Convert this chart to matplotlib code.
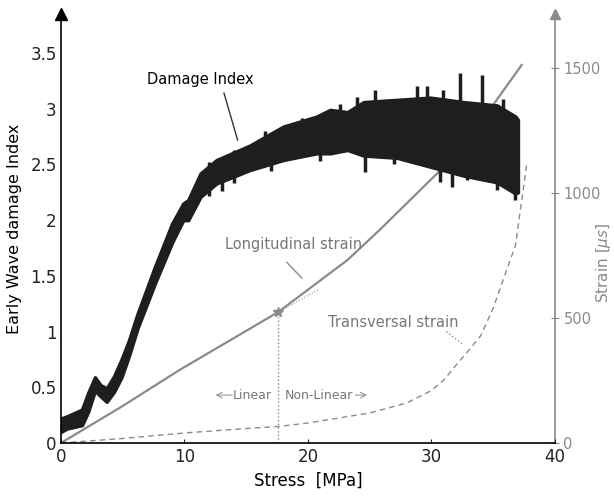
from matplotlib import pyplot as plt

# damage index band (stress in MPa, lower/upper envelope of the noisy signal)
di_stress = [0, 0.5, 1.7, 2.2, 2.75, 3.2, 3.7, 4.3, 4.9, 5.5, 6.2, 7.6, 9.0, 9.9, 10.3, 11.3,
             12.6, 15.3, 18.0, 20.7, 21.8, 23.2, 24.5, 27.2, 29.9, 32.6, 35.3, 36.8, 37.0]
di_upper = [0.22, 0.24, 0.30, 0.45, 0.59, 0.52, 0.49, 0.60, 0.75, 0.92, 1.16, 1.58, 1.97, 2.15, 2.18, 2.42,
            2.54, 2.67, 2.84, 2.93, 2.99, 2.97, 3.06, 3.08, 3.10, 3.06, 3.03, 2.93, 2.90]
di_lower = [0.10, 0.13, 0.16, 0.28, 0.47, 0.42, 0.37, 0.46, 0.59, 0.78, 1.03, 1.43, 1.80, 2.00, 2.00, 2.21,
            2.33, 2.45, 2.54, 2.60, 2.60, 2.63, 2.58, 2.56, 2.48, 2.40, 2.34, 2.24, 2.25]
# isolated spikes of the signal
spike_up_x = [12.0, 14.0, 16.5, 19.5, 22.6, 24.0, 25.4, 28.8, 29.6, 30.9, 32.3, 34.1, 35.8]
spike_up_y = [2.52, 2.63, 2.80, 2.92, 3.04, 3.11, 3.17, 3.20, 3.20, 3.17, 3.32, 3.30, 3.09]
spike_dn_x = [13.0, 17.0, 21.0, 24.6, 27.0, 30.7, 31.7, 32.9, 35.3, 36.8]
spike_dn_y = [2.26, 2.44, 2.53, 2.43, 2.50, 2.34, 2.30, 2.36, 2.27, 2.18]

# strains in micro strain
long_stress = [0, 5, 9.6, 17.6, 23.2, 25.8, 30.5, 34.7, 37.3]
long_strain = [0, 148, 292, 524, 732, 852, 1080, 1332, 1512]
trans_stress = [0, 5, 10, 15, 17.6, 20, 25, 28, 30, 31, 32, 33, 34, 35, 36, 36.8, 37.7]
trans_strain = [0, 18, 40, 58, 66, 80, 120, 160, 210, 252, 312, 370, 430, 540, 680, 790, 1110]

knee_stress = 17.6
knee_strain = 524

grey = '#8a8a8a'
plt.rcParams['font.family'] = ['DejaVu Sans']

fig = plt.figure(figsize=(6.14, 4.97), dpi=100)
ax = fig.add_axes([0.0993, 0.1087, 0.8046, 0.863])
ax2 = ax.twinx()
ax.set_zorder(ax2.get_zorder() + 1)
ax.patch.set_visible(False)

di_top = 3.85
ax.set_xlim(0, 40)
ax.set_ylim(0, di_top)
ax2.set_ylim(0, di_top * 445.6)

# strain curves on right axis
ax2.plot(long_stress, long_strain, color=grey, linewidth=1.6)
ax2.plot(trans_stress, trans_strain, color=grey, linestyle='--', linewidth=1, dashes=(4, 3))
ax2.plot([knee_stress, knee_stress], [0, knee_strain], color=grey, linestyle=':', linewidth=1)
ax2.plot([knee_stress, 20.8], [knee_strain, 612], color=grey, linestyle=':', linewidth=0.8)
ax2.plot(knee_stress, knee_strain, marker='*', color=grey, markersize=7)

# damage index
ax.fill_between(di_stress, di_lower, di_upper, color='#1e1e1e', linewidth=2.5, edgecolor='#1e1e1e')
for a, b in zip(spike_up_x, spike_up_y):
    ax.vlines(a, b - 0.3, b, color='#1e1e1e', linewidth=2.5)
for a, b in zip(spike_dn_x, spike_dn_y):
    ax.vlines(a, b, b + 0.3, color='#1e1e1e', linewidth=2.5)

# annotations
ax.text(7.0, 3.26, 'Damage Index', fontsize=10.5, va='center')
ax.plot([13.2, 14.3], [3.14, 2.72], color='#333333', linewidth=1)
ax.text(13.3, 1.78, 'Longitudinal strain', fontsize=10.5, va='center', color='#777777')
ax.plot([18.3, 19.5], [1.62, 1.48], color=grey, linewidth=1)
ax.text(21.6, 1.08, 'Transversal strain', fontsize=10.5, va='center', color='#777777')
ax.plot([31.2, 32.6], [1.0, 0.88], color=grey, linestyle=':', linewidth=1)
ax.text(17.1, 0.43, 'Linear', fontsize=9, va='center', ha='right', color='#777777')
ax.text(18.1, 0.43, 'Non-Linear', fontsize=9, va='center', ha='left', color='#777777')
ax.annotate('', xy=(12.3, 0.43), xytext=(14.1, 0.43),
            arrowprops=dict(arrowstyle='->', color=grey, linewidth=0.7))
ax.annotate('', xy=(25.0, 0.43), xytext=(23.6, 0.43),
            arrowprops=dict(arrowstyle='->', color=grey, linewidth=0.7))

# axes styling
for s in ['top', 'right']:
    ax.spines[s].set_visible(False)
for s in ['top', 'left', 'bottom']:
    ax2.spines[s].set_visible(False)
ax.spines['left'].set_linewidth(1.2)
ax.spines['bottom'].set_linewidth(1.2)
ax2.spines['right'].set_color(grey)
ax2.spines['right'].set_linewidth(1.2)

ax.set_xticks([0, 10, 20, 30, 40])
ax.set_yticks([0, 0.5, 1, 1.5, 2, 2.5, 3, 3.5])
ax.set_yticklabels(['%g' % i for i in [0, 0.5, 1, 1.5, 2, 2.5, 3, 3.5]])
ax.tick_params(axis='both', direction='in', length=3, labelsize=12, colors='#222222')
ax.tick_params(axis='y', length=0, pad=3)
ax2.set_yticks([0, 500, 1000, 1500])
ax2.tick_params(axis='y', direction='inout', length=6, labelsize=10.5, pad=3, colors=grey, labelcolor=grey)

ax.set_xlabel('Stress  [MPa]', fontsize=12)
ax.set_ylabel('Early Wave damage Index', fontsize=11.5, labelpad=6)
ax2.set_ylabel(r'Strain [$\mu s$]', fontsize=11, color=grey)
ax2.yaxis.set_label_coords(1.079, 0.42)

# arrow heads on the vertical axes
ax.plot(0, 1, marker='^', color='black', markersize=8, transform=ax.transAxes, clip_on=False)
ax2.plot(1, 1, marker='^', color=grey, markersize=7, transform=ax2.transAxes, clip_on=False)

plt.savefig('out.png', dpi=100)
